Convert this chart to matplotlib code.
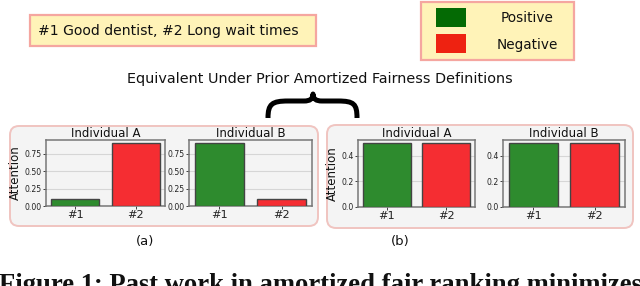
import matplotlib
matplotlib.use("Agg")
import matplotlib.pyplot as plt
from matplotlib.patches import FancyBboxPatch, Rectangle, PathPatch
from matplotlib.path import Path

# ---- data ----
categories = ["#1", "#2"]
panel_a_A = [0.1, 0.9]
panel_a_B = [0.9, 0.1]
panel_b_A = [0.5, 0.5]
panel_b_B = [0.5, 0.5]
yticks_a = [0.0, 0.25, 0.5, 0.75]
yticks_b = [0.0, 0.2, 0.4]
titles = ["Individual A", "Individual B"]
legend_labels = ["Positive", "Negative"]
bar_colors = ["#2e8b2e", "#f52d32"]
legend_colors = ["#046a04", "#ee2211"]

W, H = 640, 286
fig = plt.figure(figsize=(W / 100, H / 100), dpi=100)
fig.patch.set_facecolor("white")

ov = fig.add_axes([0, 0, 1, 1])
ov.set_xlim(0, W)
ov.set_ylim(H, 0)
ov.axis("off")

def rbox(x0, y0, x1, y1, fc, ec, lw, r):
    p = FancyBboxPatch((x0, y0), x1 - x0, y1 - y0,
                       boxstyle=f"round,pad=0,rounding_size={r}",
                       fc=fc, ec=ec, lw=lw)
    ov.add_patch(p)

# top note box
ov.add_patch(Rectangle((30, 15), 286, 31, fc="#fff3b8", ec="#f5a6a0", lw=1.6))
ov.text(38, 31, "#1 Good dentist, #2 Long wait times", fontsize=10.1,
        va="center", ha="left", color="#111")

# legend box
ov.add_patch(Rectangle((421, 2), 153, 58, fc="#fff3b8", ec="#f5a6a0", lw=1.6))
for i, (lab, col) in enumerate(zip(legend_labels, legend_colors)):
    y = 8 + i * 26
    ov.add_patch(Rectangle((436, y), 30, 19, fc=col, ec="none"))
    ov.text(527, y + 10.5, lab, fontsize=9.8, ha="center", va="center", color="#111")

ov.text(320, 79, "Equivalent Under Prior Amortized Fairness Definitions",
        fontsize=10.4, ha="center", va="center", color="#111")

# curly brace
verts = [(268, 118), (268, 104), (272, 101), (288, 101),
         (304, 101),
         (310, 101), (313, 99), (313, 94),
         (313, 99), (316, 101), (322, 101),
         (338, 101),
         (354, 101), (357, 104), (357, 118)]
codes = [Path.MOVETO, Path.CURVE4, Path.CURVE4, Path.CURVE4,
         Path.LINETO,
         Path.CURVE4, Path.CURVE4, Path.CURVE4,
         Path.CURVE4, Path.CURVE4, Path.CURVE4,
         Path.LINETO,
         Path.CURVE4, Path.CURVE4, Path.CURVE4]
ov.add_patch(PathPatch(Path(verts, codes), fc="none", ec="black", lw=3.6,
                       capstyle="butt", joinstyle="round"))

# panel boxes
rbox(10, 126, 318, 226, "#f4f4f4", "#f0c4c0", 1.4, 9)
rbox(327, 125, 633, 228, "#f4f4f4", "#f0c4c0", 1.4, 9)

ov.text(145, 242, "(a)", fontsize=9.5, ha="center", va="center", color="#111")
ov.text(400, 242, "(b)", fontsize=9.5, ha="center", va="center", color="#111")

ov.text(-1, 292, "Figure 1: Past work in amortized fair ranking minimizes",
        fontsize=19.2, fontweight="bold", family="Liberation Serif",
        ha="left", va="baseline", color="#111")

def add_ax(x0, y0, x1, y1, vals, yticks, title, ylabel, fmt):
    ax = fig.add_axes([x0 / W, 1 - y1 / H, (x1 - x0) / W, (y1 - y0) / H])
    ax.set_facecolor("#f4f4f4")
    ax.bar(range(len(categories)), vals, width=0.8, color=bar_colors,
           edgecolor="#444444", linewidth=1.0, zorder=3)
    ax.set_xticks(range(len(categories)))
    ax.set_xticklabels(categories, fontsize=8.2)
    ax.set_yticks(yticks)
    ax.set_yticklabels([fmt.format(t) for t in yticks], fontsize=5.6)
    ax.grid(axis="y", color="#d6d6d6", lw=0.8, zorder=0)
    ax.set_axisbelow(True)
    for s in ax.spines.values():
        s.set_color("#777777")
        s.set_linewidth(1.1)
    ax.tick_params(axis="both", length=2, width=0.6, pad=1, colors="#222")
    ax.set_title(title, fontsize=8.5, pad=2, color="#111")
    if ylabel:
        ax.set_ylabel(ylabel, fontsize=8.5, labelpad=2, color="#111")
    return ax

add_ax(46, 140, 165, 206, panel_a_A, yticks_a, titles[0], "Attention", "{:.2f}")
add_ax(189, 140, 312, 206, panel_a_B, yticks_a, titles[1], None, "{:.2f}")
add_ax(358, 140, 475, 207, panel_b_A, yticks_b, titles[0], "Attention", "{:.1f}")
add_ax(503, 140, 625, 207, panel_b_B, yticks_b, titles[1], None, "{:.1f}")

fig.savefig("out.png", dpi=100)
